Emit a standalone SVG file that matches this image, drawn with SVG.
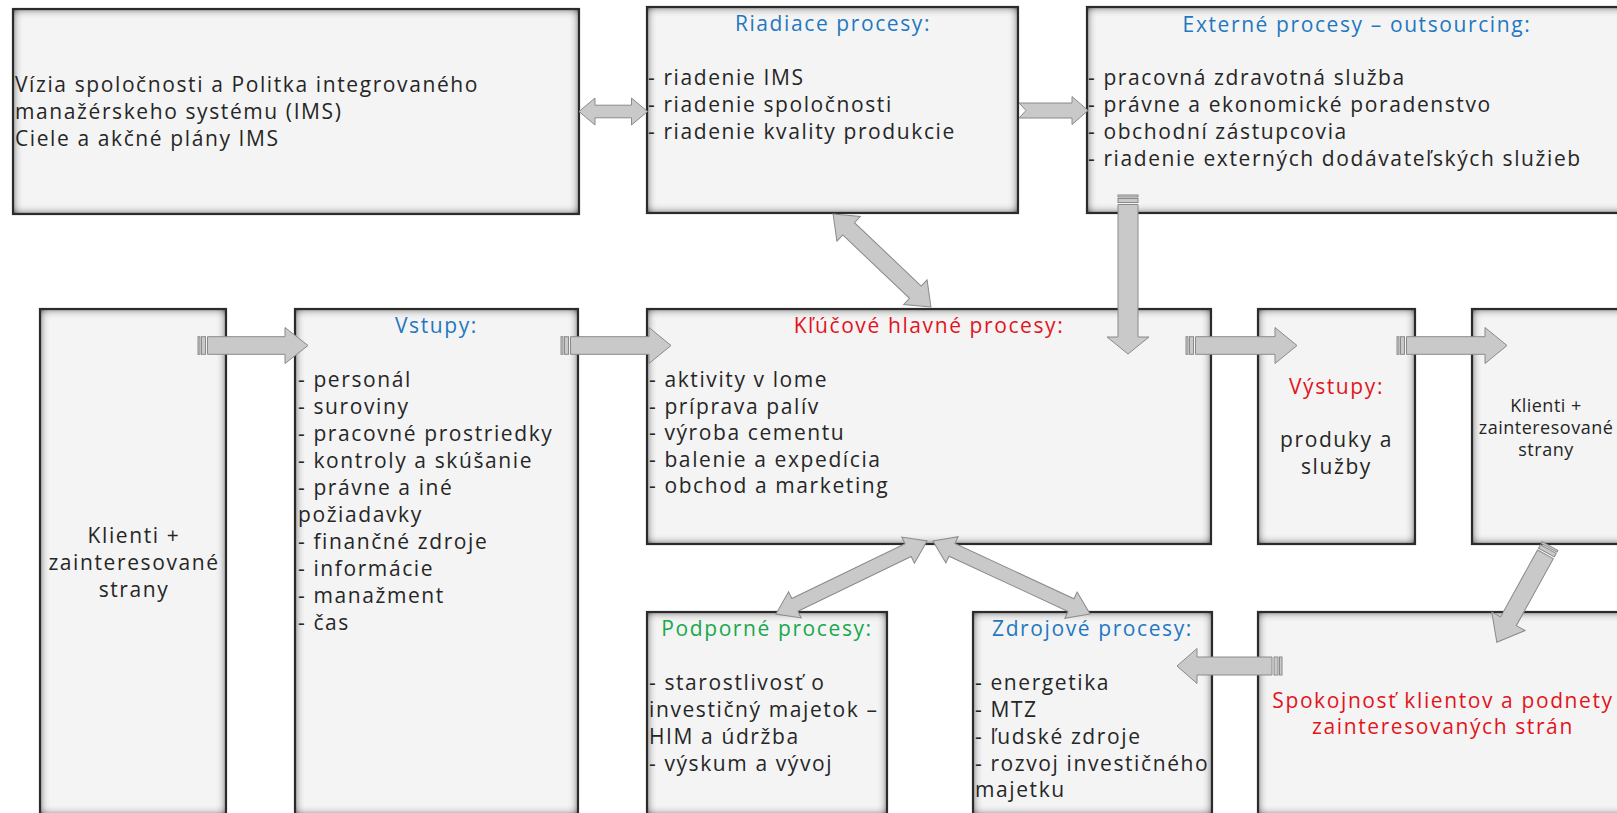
<svg xmlns="http://www.w3.org/2000/svg" width="1617" height="813" viewBox="0 0 1617 813">
<defs>
<filter id="inner" x="-10%" y="-10%" width="120%" height="120%">
<feFlood flood-color="#000" flood-opacity="1" result="f"/>
<feComposite in="f" in2="SourceAlpha" operator="out" result="outside"/>
<feGaussianBlur in="outside" stdDeviation="5" result="blur"/>
<feComposite in="blur" in2="SourceAlpha" operator="in" result="shadow"/>
<feComponentTransfer in="shadow" result="shadow2"><feFuncA type="linear" slope="1.3"/></feComponentTransfer>
<feMerge><feMergeNode in="SourceGraphic"/><feMergeNode in="shadow2"/></feMerge>
</filter>
</defs>
<style>
.bx{fill:#f4f4f4}
.bd{fill:none;stroke:#2b2b2b;stroke-width:2.2}
.t{font-family:"Open Sans","Liberation Sans",sans-serif;font-weight:400;font-size:21px;fill:#262626;letter-spacing:1.6px}
.c{text-anchor:middle}
.sm{font-size:18px;letter-spacing:0.5px}
.blue{fill:#1f78c1}
.red{fill:#e2141c}
.green{fill:#19a84c}
.ar{fill:#c9c9c9;stroke:#8a8a8a;stroke-width:1}
</style>
<rect width="1617" height="813" fill="#fff"/>

<g id="vizia">
<rect class="bx" filter="url(#inner)" x="13" y="9" width="566" height="205"/>
<rect class="bd" x="13" y="9" width="566" height="205"/>
<text class="t" x="15" y="92">Vízia spoločnosti a Politka integrovaného</text>
<text class="t" x="15" y="119">manažérskeho systému (IMS)</text>
<text class="t" x="15" y="146">Ciele a akčné plány IMS</text>
</g>

<g id="riadiace">
<rect class="bx" filter="url(#inner)" x="647" y="7" width="371" height="206"/>
<rect class="bd" x="647" y="7" width="371" height="206"/>
<text class="t c blue" x="833" y="31">Riadiace procesy:</text>
<text class="t" x="648" y="85">- riadenie IMS</text>
<text class="t" x="648" y="112">- riadenie spoločnosti</text>
<text class="t" x="648" y="139">- riadenie kvality produkcie</text>
</g>

<g id="externe">
<rect class="bx" filter="url(#inner)" x="1087" y="7" width="541" height="206"/>
<rect class="bd" x="1087" y="7" width="541" height="206"/>
<text class="t c blue" x="1357" y="32">Externé procesy – outsourcing:</text>
<text class="t" x="1088" y="85">- pracovná zdravotná služba</text>
<text class="t" x="1088" y="112">- právne a ekonomické poradenstvo</text>
<text class="t" x="1088" y="139">- obchodní zástupcovia</text>
<text class="t" x="1088" y="166">- riadenie externých dodávateľských služieb</text>
</g>

<g id="klienti-vstup">
<rect class="bx" filter="url(#inner)" x="40" y="309" width="186" height="506"/>
<rect class="bd" x="40" y="309" width="186" height="506"/>
<text class="t c" x="134" y="543">Klienti +</text>
<text class="t c" x="134" y="570">zainteresované</text>
<text class="t c" x="134" y="597">strany</text>
</g>

<g id="vstupy">
<rect class="bx" filter="url(#inner)" x="295" y="309" width="283" height="506"/>
<rect class="bd" x="295" y="309" width="283" height="506"/>
<text class="t c blue" x="436.5" y="333">Vstupy:</text>
<text class="t" x="298" y="387">- personál</text>
<text class="t" x="298" y="414">- suroviny</text>
<text class="t" x="298" y="441">- pracovné prostriedky</text>
<text class="t" x="298" y="468">- kontroly a skúšanie</text>
<text class="t" x="298" y="495">- právne a iné</text>
<text class="t" x="298" y="522">požiadavky</text>
<text class="t" x="298" y="549">- finančné zdroje</text>
<text class="t" x="298" y="576">- informácie</text>
<text class="t" x="298" y="603">- manažment</text>
<text class="t" x="298" y="630">- čas</text>
</g>

<g id="klucove">
<rect class="bx" filter="url(#inner)" x="647" y="309" width="564" height="235"/>
<rect class="bd" x="647" y="309" width="564" height="235"/>
<text class="t c red" x="929" y="333">Kľúčové hlavné procesy:</text>
<text class="t" x="649" y="387">- aktivity v lome</text>
<text class="t" x="649" y="413.5">- príprava palív</text>
<text class="t" x="649" y="440">- výroba cementu</text>
<text class="t" x="649" y="466.5">- balenie a expedícia</text>
<text class="t" x="649" y="493">- obchod a marketing</text>
</g>

<g id="vystupy">
<rect class="bx" filter="url(#inner)" x="1258" y="309" width="157" height="235"/>
<rect class="bd" x="1258" y="309" width="157" height="235"/>
<text class="t c red" x="1336.5" y="394">Výstupy:</text>
<text class="t c" x="1336.5" y="447">produky a</text>
<text class="t c" x="1336.5" y="474">služby</text>
</g>

<g id="klienti-vystup">
<rect class="bx" filter="url(#inner)" x="1472" y="309" width="156" height="235"/>
<rect class="bd" x="1472" y="309" width="156" height="235"/>
<text class="t c sm" x="1546" y="412">Klienti +</text>
<text class="t c sm" x="1546" y="434">zainteresované</text>
<text class="t c sm" x="1546" y="456">strany</text>
</g>

<g id="podporne">
<rect class="bx" filter="url(#inner)" x="647" y="612" width="240" height="203"/>
<rect class="bd" x="647" y="612" width="240" height="203"/>
<text class="t c green" x="767" y="636">Podporné procesy:</text>
<text class="t" x="649" y="690">- starostlivosť o</text>
<text class="t" x="649" y="717">investičný majetok –</text>
<text class="t" x="649" y="744">HIM a údržba</text>
<text class="t" x="649" y="771">- výskum a vývoj</text>
</g>

<g id="zdrojove">
<rect class="bx" filter="url(#inner)" x="973" y="612" width="239" height="203"/>
<rect class="bd" x="973" y="612" width="239" height="203"/>
<text class="t c blue" x="1092.5" y="636">Zdrojové procesy:</text>
<text class="t" x="975" y="690">- energetika</text>
<text class="t" x="975" y="717">- MTZ</text>
<text class="t" x="975" y="744">- ľudské zdroje</text>
<text class="t" x="975" y="771">- rozvoj investičného</text>
<text class="t" x="975" y="797">majetku</text>
</g>

<g id="spokojnost">
<rect class="bx" filter="url(#inner)" x="1258" y="612" width="370" height="203"/>
<rect class="bd" x="1258" y="612" width="370" height="203"/>
<text class="t c red" x="1443" y="708">Spokojnosť klientov a podnety</text>
<text class="t c red" x="1443" y="734">zainteresovaných strán</text>
</g>

<g id="connectors">
<path class="ar" d="M579,111.5 L595,98 V105.2 H631.5 V98 L647.5,111.5 L631.5,125 V117.8 H595 V125 Z"/>
<path class="ar" d="M1019,103 H1072 V96.5 L1088,110.5 L1072,124.5 V118 H1019 L1026,110.5 Z"/>
<path class="ar" transform="translate(882,260.5) rotate(43.5)" d="M-67.5,0 L-46,-17 V-8.5 H46 V-17 L67.5,0 L46,17 V8.5 H-46 V17 Z"/>
<g>
<rect class="ar" x="1118" y="195" width="20" height="2"/>
<rect class="ar" x="1118" y="198.5" width="20" height="4"/>
<path class="ar" d="M1118,204.5 V337 H1107 L1128,354 L1149,337 H1138 V204.5 Z"/>
</g>
<g>
<rect class="ar" x="198" y="336.7" width="2" height="17.6"/>
<rect class="ar" x="201.5" y="336.7" width="4" height="17.6"/>
<path class="ar" d="M207.5,336.7 H285 V327.5 L308,345.5 L285,363.5 V354.3 H207.5 Z"/>
</g>
<g>
<rect class="ar" x="561" y="336.7" width="2" height="17.6"/>
<rect class="ar" x="564.5" y="336.7" width="4" height="17.6"/>
<path class="ar" d="M570.5,336.7 H649 V327.5 L671,345.5 L649,363.5 V354.3 H570.5 Z"/>
</g>
<g>
<rect class="ar" x="1186" y="336.7" width="2" height="17.6"/>
<rect class="ar" x="1189.5" y="336.7" width="4" height="17.6"/>
<path class="ar" d="M1195.5,336.7 H1275 V327.5 L1297,345.5 L1275,363.5 V354.3 H1195.5 Z"/>
</g>
<g>
<rect class="ar" x="1397" y="336.7" width="2" height="17.6"/>
<rect class="ar" x="1400.5" y="336.7" width="4" height="17.6"/>
<path class="ar" d="M1406.5,336.7 H1485 V327.5 L1507,345.5 L1485,363.5 V354.3 H1406.5 Z"/>
</g>
<g transform="translate(1550,546) rotate(118.9)">
<rect class="ar" x="0" y="-9" width="2" height="18"/>
<rect class="ar" x="3.5" y="-9" width="4" height="18"/>
<path class="ar" d="M9.5,-9 H86 V-19 L110,0 L86,19 V9 H9.5 Z"/>
</g>
<g>
<rect class="ar" x="1279.5" y="657" width="2.5" height="18"/>
<rect class="ar" x="1274" y="657" width="4" height="18"/>
<path class="ar" d="M1272,657 H1197 V648.5 L1177,666 L1197,683.5 V675 H1272 Z"/>
</g>
<path class="ar" transform="translate(851.5,577.5) rotate(154.2)" d="M-83.9,0 L-62.9,-14.5 V-7 H62.9 V-14.5 L83.9,0 L62.9,14.5 V7 H-62.9 V14.5 Z"/>
<path class="ar" transform="translate(1011.5,577.5) rotate(24.9)" d="M-86.6,0 L-65.6,-14.5 V-7 H65.6 V-14.5 L86.6,0 L65.6,14.5 V7 H-65.6 V14.5 Z"/>
</g>
</svg>
